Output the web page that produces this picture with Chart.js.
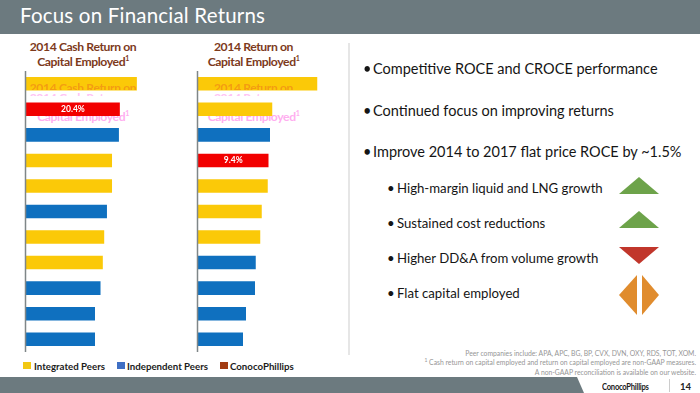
<!DOCTYPE html>
<html>
<head>
<meta charset="utf-8">
<script src="https://cdn.jsdelivr.net/npm/chart.js@4"></script>
<style>
  html, body { margin: 0; padding: 0; }
  body { width: 700px; height: 393px; overflow: hidden; background: #fff; position: relative; font-family: Lato, sans-serif; }
  .abs { position: absolute; white-space: nowrap; }
  #header { left: 0; top: 0; width: 700px; height: 34px; background: #6c7a7f; }
  #title { left: 20px; top: 1px; font-size: 20.5px; line-height: 28px; color: #fff; letter-spacing: .2px; }
  #footer { left: 0; top: 377px; width: 700px; height: 16px; background: #6c7a7f; }
  #notch { left: 577px; top: 377px; width: 123px; height: 16px; background: #fff; clip-path: polygon(0 0, 100% 0, 100% 100%, 7px 100%); }
  .head, .ghost { text-align: center; font-weight: 700; font-size: 12.2px; letter-spacing: -.4px; }
  .head { color: #7d3a1c; line-height: 15px; }
  .head sup, .ghost sup { font-size: 7px; line-height: 0; }
  .ghost { overflow: hidden; line-height: 15px; }
  canvas { position: absolute; }
  #divider { left: 348px; top: 43px; width: 2px; height: 312px; background: #e6e6e6; }
  .b1, .b2 { color: #151515; }
  .b1 { left: 373px; font-size: 14.5px; line-height: 18px; }
  .b1::before { content: "\2022"; position: absolute; left: -10px; }
  .b2 { left: 397px; font-size: 13.2px; line-height: 16px; }
  .b2::before { content: "\2022"; position: absolute; left: -10px; }
  .legend { top: 360px; font-size: 9.7px; font-weight: 700; line-height: 12px; color: #1c1c1c; }
  .swatch { width: 8px; height: 7px; top: 362px; }
  .note { right: 4px; font-size: 6.8px; line-height: 9px; color: #969696; text-align: right; }
</style>
</head>
<body>
<div class="abs" id="header"></div>
<div class="abs" id="title">Focus on Financial Returns</div>
<div class="abs" id="footer"></div>
<div class="abs" id="notch"></div>

<div class="abs head" style="left:15px;top:39px;width:136px">2014 Cash Return on<br>Capital Employed<sup>1</sup></div>
<div class="abs head" style="left:186px;top:39px;width:135px">2014 Return on<br>Capital Employed<sup>1</sup></div>

<div class="abs ghost" style="left:15px;top:90px;width:136px;height:6px;color:#ffc4f4">2014 Cash Return on</div>
<div class="abs ghost" style="left:186px;top:90px;width:135px;height:6px;color:#ffc4f4">2014 Return on</div>
<div class="abs ghost" style="left:15px;top:109px;width:136px;color:#ffaef0">Capital Employed<sup>1</sup></div>
<div class="abs ghost" style="left:186px;top:109px;width:135px;color:#ffaef0">Capital Employed<sup>1</sup></div>

<canvas id="croceChart"></canvas>
<canvas id="roceChart"></canvas>

<div class="abs ghost" style="left:15px;top:80px;width:136px;height:10px;color:#f39c12">2014 Cash Return on</div>
<div class="abs ghost" style="left:186px;top:80px;width:135px;height:10px;color:#f39c12">2014 Return on</div>

<div class="abs" id="divider"></div>

<div class="abs b1" style="top:60px">Competitive ROCE and CROCE performance</div>
<div class="abs b1" style="top:102px">Continued focus on improving returns</div>
<div class="abs b1" style="top:143px">Improve 2014 to 2017 flat price ROCE by ~1.5%</div>
<div class="abs b2" style="top:180px">High-margin liquid and LNG growth</div>
<div class="abs b2" style="top:215px">Sustained cost reductions</div>
<div class="abs b2" style="top:250px">Higher DD&amp;A from volume growth</div>
<div class="abs b2" style="top:285px">Flat capital employed</div>

<svg class="abs" style="left:615px;top:170px" width="50" height="150">
  <polygon points="4,24 24,7 44,24" fill="#6da34a"/>
  <polygon points="4,58 24,41 44,58" fill="#6da34a"/>
  <polygon points="4,77 44,77 24,94" fill="#c1362b"/>
  <polygon points="4,125 22,105 22,145" fill="#e08c2e"/>
  <polygon points="27,105 44,125 27,145" fill="#e08c2e"/>
</svg>

<div class="abs swatch" style="left:23px;background:#f2c813"></div>
<div class="abs legend" style="left:34px">Integrated Peers</div>
<div class="abs swatch" style="left:117px;background:#3f6fc4"></div>
<div class="abs legend" style="left:127px">Independent Peers</div>
<div class="abs swatch" style="left:220px;background:#a23c12"></div>
<div class="abs legend" style="left:230px">ConocoPhillips</div>

<div class="abs note" style="top:349px">Peer companies include: APA, APC, BG, BP, CVX, DVN, OXY, RDS, TOT, XOM.</div>
<div class="abs note" style="top:358px"><sup style="font-size:5px;line-height:0">1</sup> Cash return on capital employed and return on capital employed are non-GAAP measures.</div>
<div class="abs note" style="top:368px">A non-GAAP reconciliation is available on our website.</div>

<div class="abs" style="left:602px;top:381px;font-size:9.5px;font-weight:700;line-height:12px;color:#222;letter-spacing:-.3px;transform:scaleX(.8);transform-origin:left">ConocoPhillips</div>
<div class="abs" style="left:669px;top:379px;width:1px;height:13px;background:#ccc"></div>
<div class="abs" style="left:680px;top:381px;font-size:9.5px;font-weight:700;line-height:12px;color:#222">14</div>

<script>
// Ranked peers, names are not shown on the slide
const ranks = ['1', '2', '3', '4', '5', '6', '7', '8', '9', '10', '11'];

// 2014 Cash Return on Capital Employed, percent
const croceValues = [24.1, 20.4, 20.2, 18.7, 18.7, 17.6, 17.0, 16.7, 16.2, 15.0, 15.0];
const croceGroups = ['int', 'cop', 'ind', 'int', 'int', 'ind', 'int', 'int', 'ind', 'ind', 'ind'];

// 2014 Return on Capital Employed, percent
const roceValues = [15.9, 9.9, 9.6, 9.4, 9.3, 8.5, 8.3, 7.7, 7.6, 6.4, 6.0];
const roceGroups = ['int', 'int', 'ind', 'cop', 'int', 'int', 'int', 'ind', 'ind', 'ind', 'ind'];

const groupColors = { int: '#fbc908', ind: '#0f70bf', cop: '#f20000' };

// Zero line, and a value label only on the ConocoPhillips bar
const copLabel = {
  id: 'copLabel',
  afterDatasetsDraw(chart) {
    const ctx = chart.ctx;
    const meta = chart.getDatasetMeta(0);
    const zero = chart.scales.x.getPixelForValue(0);
    ctx.save();
    ctx.strokeStyle = '#7f8688';
    ctx.lineWidth = 1.5;
    ctx.beginPath();
    ctx.moveTo(zero - 0.5, chart.chartArea.top);
    ctx.lineTo(zero - 0.5, chart.chartArea.bottom);
    ctx.stroke();
    ctx.restore();
    chart.data.datasets[0].groups.forEach((g, i) => {
      if (g !== 'cop') return;
      const bar = meta.data[i];
      ctx.save();
      ctx.fillStyle = '#fff';
      ctx.font = 'bold 8.5px Lato, sans-serif';
      ctx.textAlign = 'center';
      ctx.textBaseline = 'middle';
      ctx.fillText(chart.data.datasets[0].data[i].toFixed(1) + '%', (bar.base + bar.x) / 2, bar.y);
      ctx.restore();
    });
  }
};

function drawBars(id, left, width, values, groups, max) {
  const canvas = document.getElementById(id);
  canvas.style.left = left + 'px';
  canvas.style.top = '71px';
  canvas.style.width = width + 'px';
  canvas.style.height = '281px';
  canvas.width = width;
  canvas.height = 281;
  new Chart(canvas, {
    type: 'bar',
    data: {
      labels: ranks,
      datasets: [{
        data: values,
        groups: groups,
        backgroundColor: groups.map(g => groupColors[g]),
        categoryPercentage: 1,
        barPercentage: 0.53
      }]
    },
    options: {
      indexAxis: 'y',
      responsive: false,
      animation: false,
      layout: { padding: { left: 2 } },
      plugins: { legend: { display: false }, tooltip: { enabled: false } },
      scales: {
        x: { display: false, min: 0, max: max },
        y: {
          grid: { display: false, drawTicks: false },
          border: { display: false },
          ticks: { display: false }
        }
      }
    },
    plugins: [copLabel]
  });
}

// 4.6 px per point on the left chart, 7.5 px per point on the right
drawBars('croceChart', 24, 132, croceValues, croceGroups, 130 / 4.6);
drawBars('roceChart', 196, 142, roceValues, roceGroups, 140 / 7.5);
</script>
</body>
</html>
